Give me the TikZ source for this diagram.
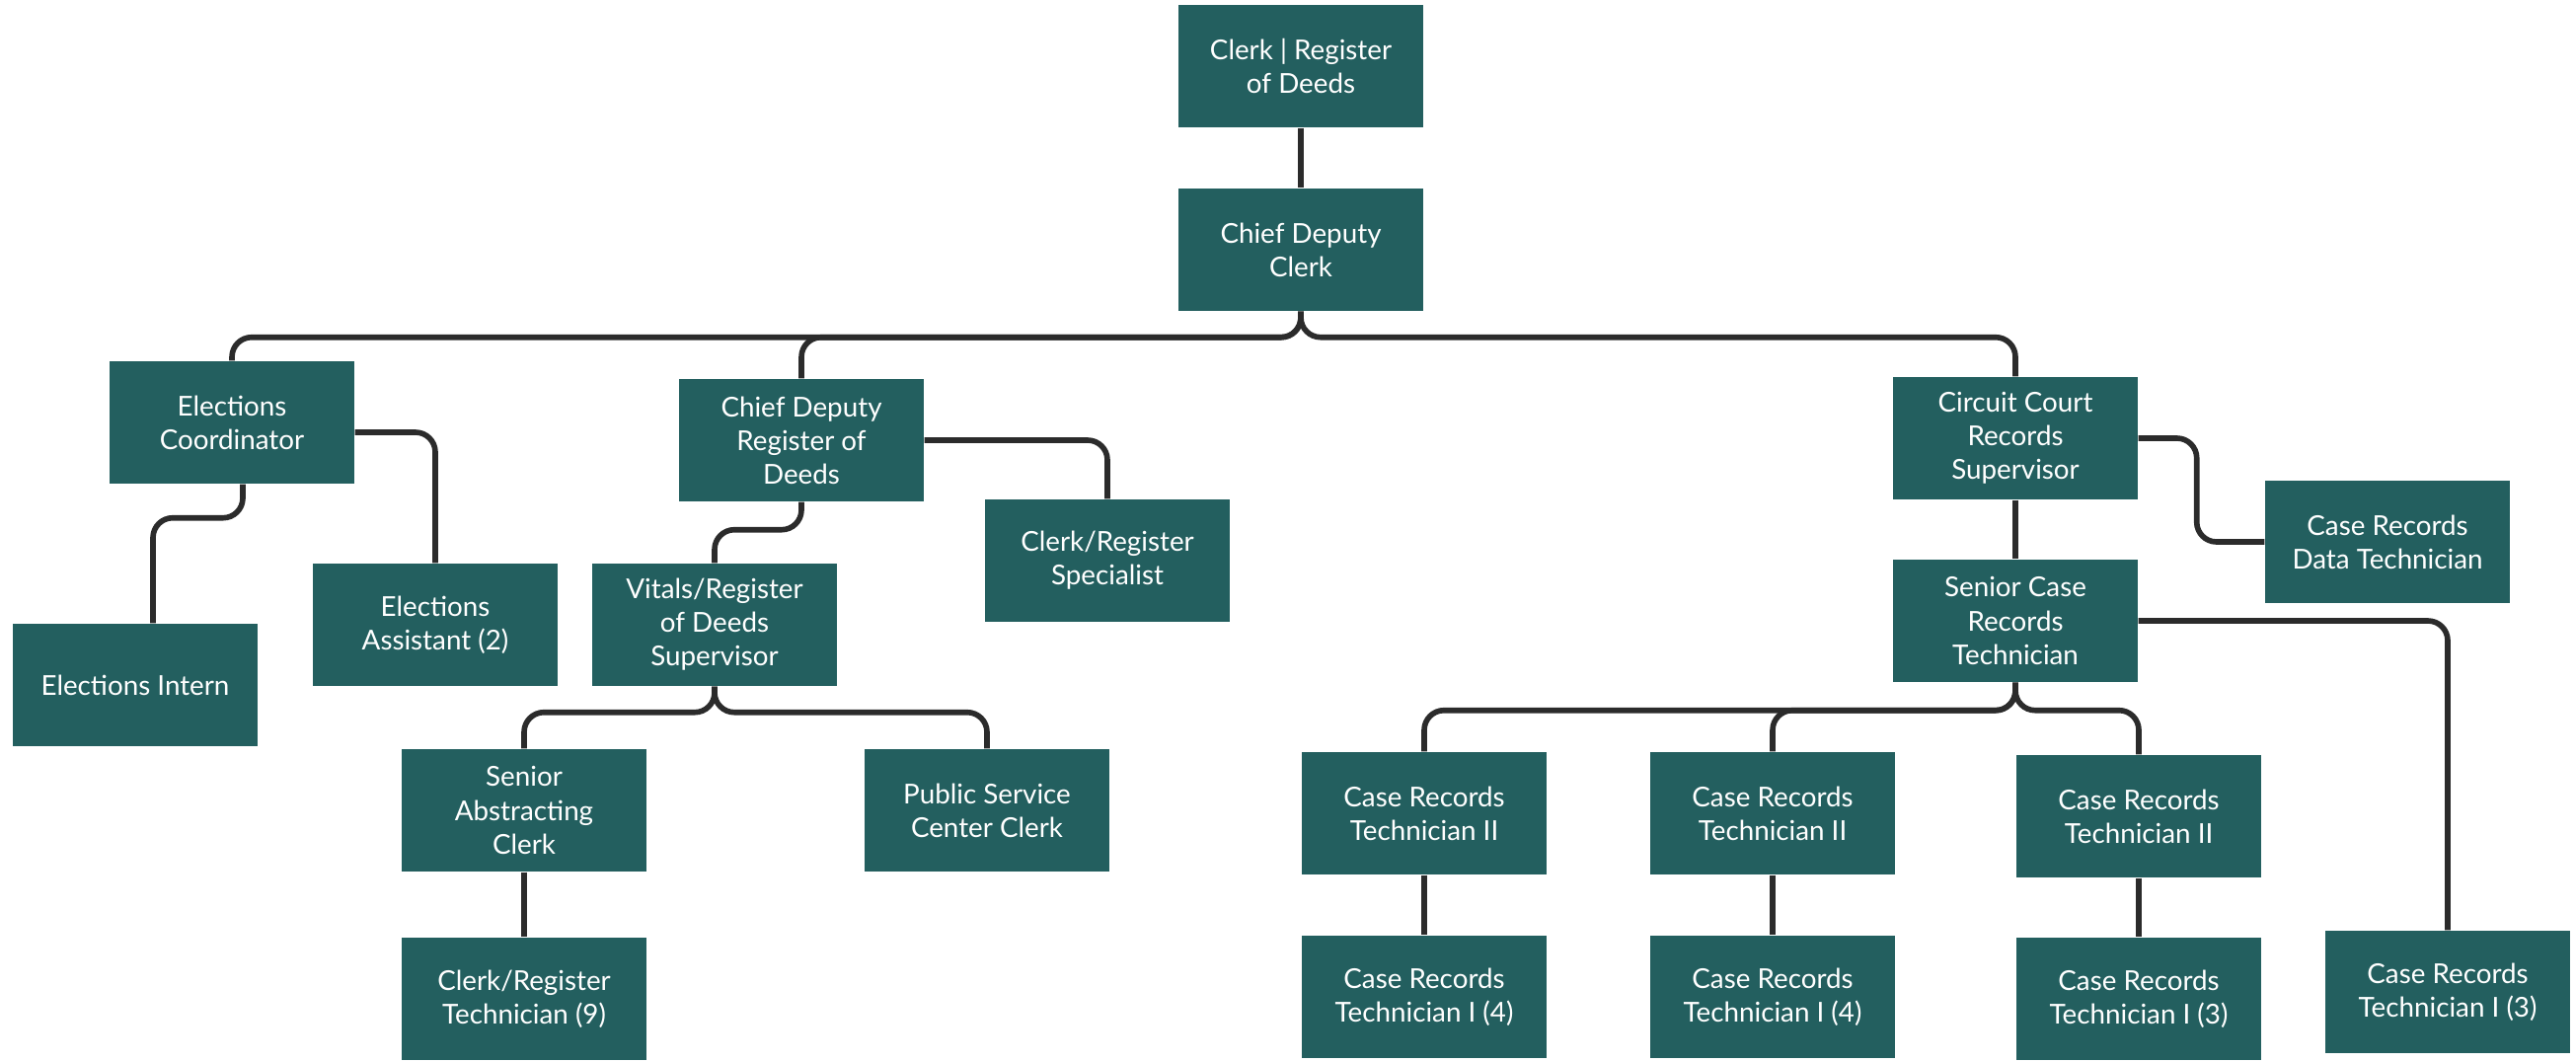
\documentclass[tikz,border=0pt]{standalone}
\usepackage{fontspec}
\setmainfont{Lato}
\definecolor{boxteal}{HTML}{235F5F}
\definecolor{linkgray}{HTML}{2B2B2B}

\begin{document}
\begin{tikzpicture}[main/.style = {fill=boxteal, text=white, minimum width=2.48cm, minimum height=1.24cm, inner sep=0pt, align=center, font=\fontsize{7.9}{9.7}\selectfont}, link/.style = {draw=linkgray, line width=1.6pt, rounded corners=2mm}]
	\useasboundingbox (0,0) rectangle (26.10,-10.76);
	\node[main] (top) at (13.18, -0.67){Clerk | Register\\of Deeds};
	\node[main] (cdc) at (13.18, -2.53){Chief Deputy\\Clerk};
	\node[main] (ecoord) at (2.35, -4.28){Elections\\Coordinator};
	\node[main] (cdrd) at (8.12, -4.46){Chief Deputy\\Register of\\Deeds};
	\node[main] (ccrs) at (20.42, -4.44){Circuit Court\\Records\\Supervisor};
	\node[main] (eintern) at (1.37, -6.94){Elections Intern};
	\node[main] (eassist) at (4.41, -6.33){Elections\\Assistant (2)};
	\node[main] (vitals) at (7.24, -6.33){Vitals/Register\\of Deeds\\Supervisor};
	\node[main] (spec) at (11.22, -5.68){Clerk/Register\\Specialist};
	\node[main] (datatech) at (24.19, -5.49){Case Records\\Data Technician};
	\node[main] (scrt) at (20.42, -6.29){Senior Case\\Records\\Technician};
	\node[main] (sac) at (5.31, -8.21){Senior\\Abstracting\\Clerk};
	\node[main] (pscc) at (10.00, -8.21){Public Service\\Center Clerk};
	\node[main] (crtech) at (5.31, -10.12){Clerk/Register\\Technician (9)};
	\node[main] (crtA) at (14.43, -8.24){Case Records\\Technician II};
	\node[main] (crtB) at (17.96, -8.24){Case Records\\Technician II};
	\node[main] (crtC) at (21.67, -8.27){Case Records\\Technician II};
	\node[main] (crtIA) at (14.43, -10.10){Case Records\\Technician I (4)};
	\node[main] (crtIB) at (17.96, -10.10){Case Records\\Technician I (4)};
	\node[main] (crtIC) at (21.67, -10.12){Case Records\\Technician I (3)};
	\node[main] (crtID) at (24.80, -10.05){Case Records\\Technician I (3)};
	\draw[link] (top) -- (cdc);
	\draw[link] (cdc.south) -- ++(0,-0.26) -| (ecoord.north);
	\draw[link] (cdc.south) -- ++(0,-0.26) -| (cdrd.north);
	\draw[link] (cdc.south) -- ++(0,-0.26) -| (ccrs.north);
	\draw[link] ([yshift=-1mm]ecoord.east) -| (eassist.north);
	\draw[link] ([xshift=1.1mm]ecoord.south) -- ++(0,-0.34) -| ([xshift=1.8mm]eintern.north);
	\draw[link] (cdrd.east) -| (spec.north);
	\draw[link] (cdrd.south) -- ++(0,-0.28) -| (vitals.north);
	\draw[link] (vitals.south) -- ++(0,-0.26) -| (sac.north);
	\draw[link] (vitals.south) -- ++(0,-0.26) -| (pscc.north);
	\draw[link] (sac) -- (crtech);
	\draw[link] (ccrs) -- (scrt);
	\draw[link] (ccrs.east) -- ++(0.59,0) |- (datatech.west);
	\draw[link] (scrt.south) -- ++(0,-0.28) -| (crtA.north);
	\draw[link] (scrt.south) -- ++(0,-0.28) -| (crtB.north);
	\draw[link] (scrt.south) -- ++(0,-0.28) -| (crtC.north);
	\draw[link] (scrt.east) -| (crtID.north);
	\draw[link] (crtA) -- (crtIA);
	\draw[link] (crtB) -- (crtIB);
	\draw[link] (crtC) -- (crtIC);
\end{tikzpicture}
\end{document}
